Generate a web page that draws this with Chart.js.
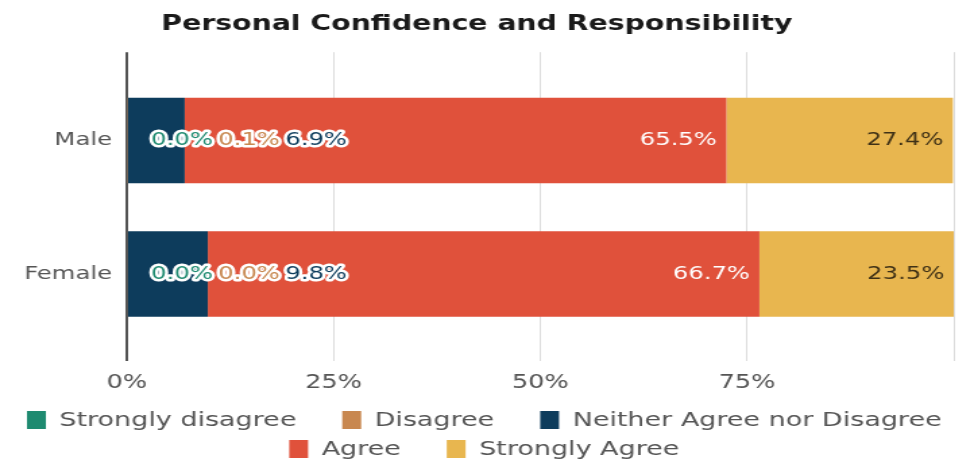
<!DOCTYPE html>
<html>
<head>
<meta charset="utf-8">
<title>Personal Confidence and Responsibility</title>
<script src="https://cdn.jsdelivr.net/npm/chart.js@4/dist/chart.umd.min.js"></script>
<style>
  html, body { margin: 0; padding: 0; background: #fff; overflow: hidden; }
  #wrap { width: 958px; height: 461px; }
  /* the chart is laid out narrow and widened to the page */
  #confChart { transform: scaleX(1.349); transform-origin: 0 0; }
</style>
</head>
<body>
<div id="wrap"><canvas id="confChart" width="710" height="461"></canvas></div>
<script>
// Survey answers, percent of respondents
const categories = ['Male', 'Female'];
const responses = ['Strongly disagree', 'Disagree', 'Neither Agree nor Disagree', 'Agree', 'Strongly Agree'];
const stronglyDisagree = [0.0, 0.0];
const disagree = [0.1, 0.0];
const neither = [6.9, 9.8];
const agree = [65.5, 66.7];
const stronglyAgree = [27.4, 23.5];

const colors = ['#1e8a70', '#c8874f', '#0d3c5c', '#e0513b', '#e8b64f'];
const labelColors = [null, null, null, '#ffffff', '#3f3116'];
const smallCutoff = 10;   // segments below this get their labels lined up on the left
const font = '"DejaVu Sans", Verdana, sans-serif';

const series = [stronglyDisagree, disagree, neither, agree, stronglyAgree];

// Percent labels: big segments right-aligned inside, small ones in a row with a halo
const barLabels = {
  id: 'barLabels',
  afterDatasetsDraw(chart) {
    const ctx = chart.ctx;
    ctx.save();
    ctx.font = '18px ' + font;
    ctx.textBaseline = 'middle';
    ctx.lineJoin = 'round';
    categories.forEach((cat, i) => {
      let cursor = chart.chartArea.left + 18;
      chart.data.datasets.forEach((ds, d) => {
        const bar = chart.getDatasetMeta(d).data[i];
        const value = ds.data[i].x;
        const text = value.toFixed(1) + '%';
        const w = ctx.measureText(text).width;
        if (value < smallCutoff) {
          ctx.textAlign = 'left';
          ctx.strokeStyle = '#ffffff';
          ctx.lineWidth = 5;
          ctx.strokeText(text, cursor, bar.y);
          ctx.fillStyle = ds.backgroundColor;
          ctx.fillText(text, cursor, bar.y);
          cursor += w + 4;
        } else {
          ctx.textAlign = 'right';
          ctx.fillStyle = labelColors[d];
          ctx.fillText(text, bar.x - 7, bar.y);
        }
      });
    });
    ctx.restore();
  }
};

// Legend under the axis, wrapped into centred rows
const bottomLegend = {
  id: 'bottomLegend',
  afterDraw(chart) {
    const ctx = chart.ctx;
    const boxW = 14, boxH = 18, textGap = 10, itemGap = 34;
    const rowY = [420, 449];
    ctx.save();
    ctx.font = '20px ' + font;
    ctx.textBaseline = 'middle';
    ctx.textAlign = 'left';
    const items = chart.data.datasets.map(ds => ({
      text: ds.label,
      color: ds.backgroundColor,
      width: boxW + textGap + ctx.measureText(ds.label).width
    }));
    const rows = [[]];
    let rowWidth = 0;
    items.forEach(item => {
      const row = rows[rows.length - 1];
      const add = row.length ? itemGap + item.width : item.width;
      if (row.length && rowWidth + add > chart.width - 10) {
        rows.push([item]);
        rowWidth = item.width;
      } else {
        row.push(item);
        rowWidth += add;
      }
    });
    rows.forEach((row, r) => {
      const total = row.reduce((s, it) => s + it.width, 0) + itemGap * (row.length - 1);
      let x = (chart.width - total) / 2 + 4;
      const y = rowY[r];
      row.forEach(it => {
        ctx.fillStyle = it.color;
        ctx.fillRect(x, y - boxH / 2, boxW, boxH);
        ctx.fillStyle = '#555555';
        ctx.fillText(it.text, x + boxW + textGap, y + 1);
        x += it.width + itemGap;
      });
    });
    ctx.restore();
  }
};

const ctx = document.getElementById('confChart').getContext('2d');
const confChart = new Chart(ctx, {
  type: 'bar',
  data: {
    datasets: responses.map((name, d) => ({
      label: name,
      backgroundColor: colors[d],
      borderWidth: 0,
      barPercentage: 0.8,
      categoryPercentage: 0.8,
      data: series[d].map((v, i) => ({ x: v, y: i }))
    }))
  },
  options: {
    indexAxis: 'y',
    responsive: false,
    animation: false,
    layout: { padding: { left: 0, right: 3, top: 0, bottom: 57 } },
    scales: {
      x: {
        stacked: true,
        min: 0,
        max: 100,
        border: { display: false },
        grid: {
          drawTicks: false,
          color: c => c.tick && c.tick.value === 0 ? '#555555' : '#dcdcdc',
          lineWidth: c => c.tick && c.tick.value === 0 ? 2 : 1
        },
        afterFit: scale => { scale.paddingRight = 0; },
        ticks: {
          stepSize: 25,
          padding: 10,
          color: '#555555',
          font: { family: font, size: 19 },
          callback: v => v < 100 ? v + '%' : ''
        }
      },
      y: {
        type: 'linear',
        stacked: true,
        reverse: true,
        offset: false,
        bounds: 'data',
        min: -0.662,
        max: 1.654,
        grid: { display: false },
        border: { display: false },
        afterBuildTicks: scale => { scale.ticks = categories.map((c, i) => ({ value: i })); },
        afterFit: scale => { scale.width = 94; },
        ticks: {
          padding: 3,
          color: '#555555',
          font: { family: font, size: 18 },
          callback: v => categories[v]
        }
      }
    },
    plugins: {
      legend: { display: false },
      tooltip: { enabled: false },
      title: {
        display: true,
        text: 'Personal Confidence and Responsibility',
        color: '#1a1a1a',
        font: { family: font, size: 21, weight: 'bold' },
        padding: { top: 12, bottom: 15 }
      }
    }
  },
  plugins: [barLabels, bottomLegend]
});
</script>
</body>
</html>
